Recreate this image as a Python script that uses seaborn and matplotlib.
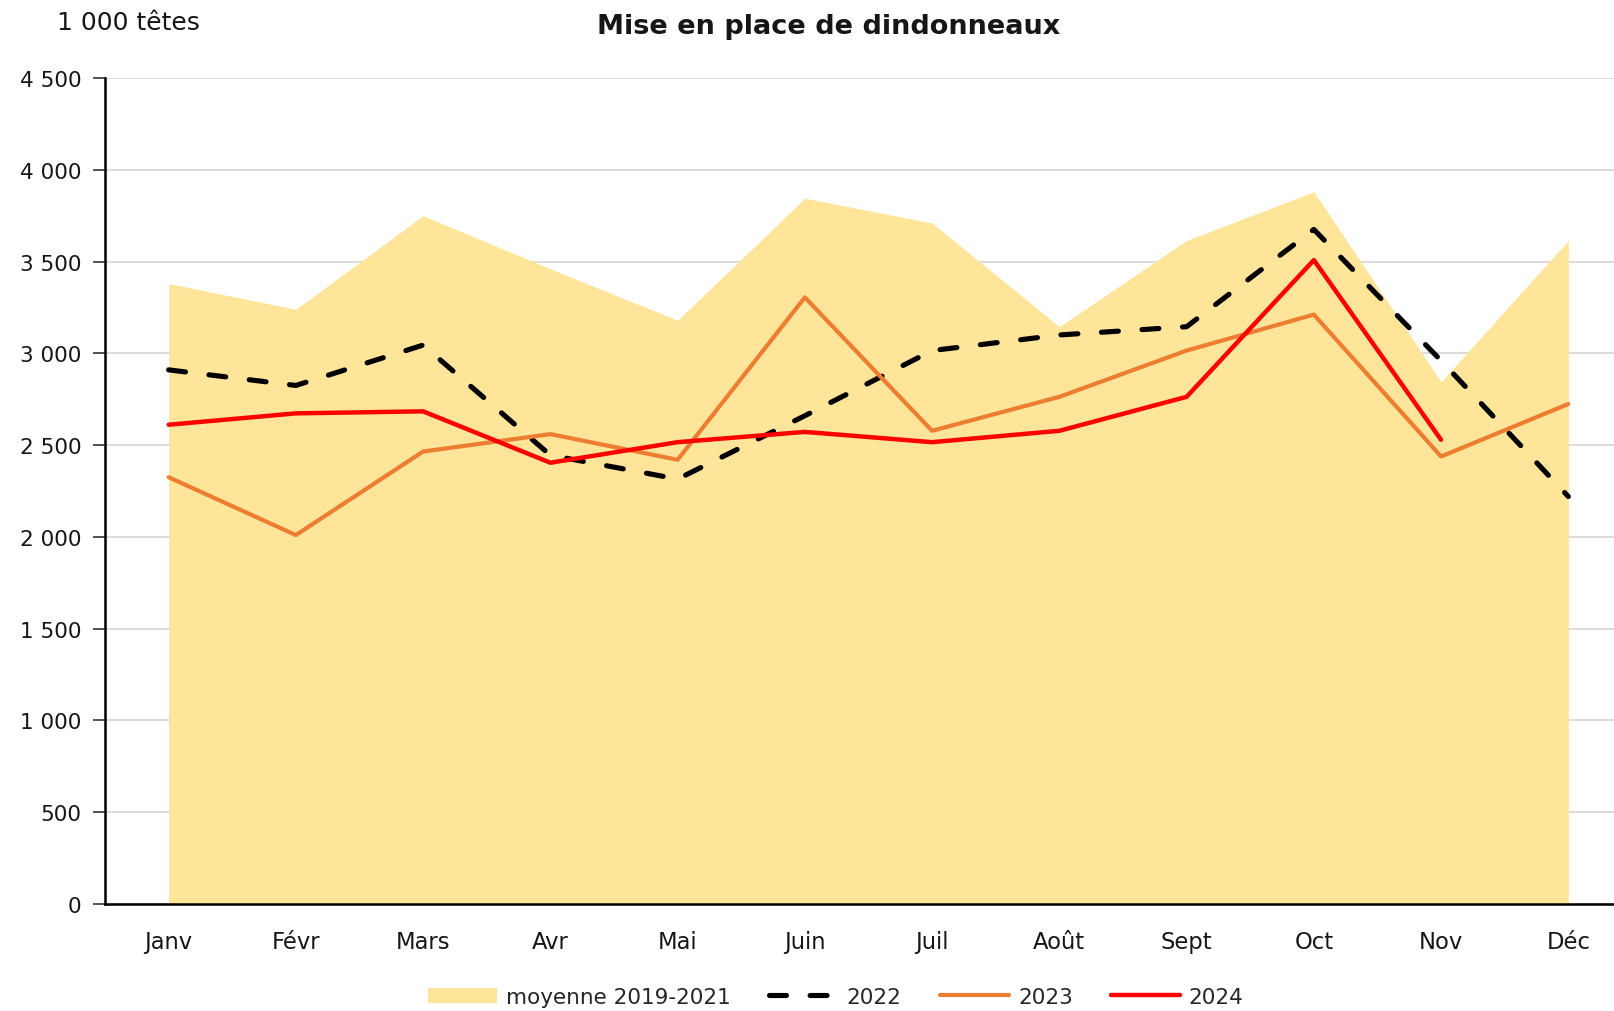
import numpy as np
import pandas as pd
import matplotlib
matplotlib.use("Agg")
import matplotlib.pyplot as plt
import seaborn as sns

months = ["Janv", "Févr", "Mars", "Avr", "Mai", "Juin", "Juil", "Août", "Sept", "Oct", "Nov", "Déc"]
moyenne_2019_2021 = [3380, 3240, 3750, 3460, 3180, 3845, 3710, 3145, 3615, 3880, 2845, 3615]
y2022 = [2910, 2825, 3045, 2445, 2315, 2660, 3015, 3100, 3145, 3675, 2960, 2220]
y2023 = [2325, 2010, 2465, 2560, 2420, 3305, 2578, 2763, 3015, 3211, 2438, 2724]
y2024 = [2611, 2673, 2684, 2404, 2516, 2572, 2516, 2578, 2763, 3508, 2529]
yticks = [0, 500, 1000, 1500, 2000, 2500, 3000, 3500, 4000, 4500]
ytick_labels = ["0", "500", "1 000", "1 500", "2 000", "2 500", "3 000", "3 500", "4 000", "4 500"]

sns.set_theme(style="white")
plt.rcParams['font.family'] = ['DejaVu Sans']

W, H = 1615, 1012
fig = plt.figure(figsize=(W / 100, H / 100), dpi=100)
left = 105 / W
bottom = (H - 905) / H
top = (H - 79) / H
right_px = 168 + 11.5 * 127.3
ax = fig.add_axes([left, bottom, (right_px - 105) / W, top - bottom])

x = np.arange(len(months))
ax.fill_between(x, moyenne_2019_2021, 0, color="#FFE599", lw=0, label="moyenne 2019-2021", zorder=1)

df22 = pd.DataFrame({"x": x, "v": y2022})
df23 = pd.DataFrame({"x": x, "v": y2023})
df24 = pd.DataFrame({"x": x[:len(y2024)], "v": y2024})

sns.lineplot(data=df22, x="x", y="v", ax=ax, color="black", lw=3.7, label="2022", zorder=3)
ax.lines[-1].set_dashes([3.3, 4.6])
ax.lines[-1].set_dash_capstyle("round")
sns.lineplot(data=df23, x="x", y="v", ax=ax, color="#ED7D31", lw=3.0, label="2023", zorder=3)
sns.lineplot(data=df24, x="x", y="v", ax=ax, color="#FF0000", lw=3.2, label="2024", zorder=4)
for ln in ax.lines:
    ln.set_solid_capstyle("round")

ax.set_xlim(-0.5, 11.5)
ax.set_ylim(0, 4500)
ax.set_yticks(yticks)
ax.set_yticklabels(ytick_labels, fontsize=15.5, color="#161616")
ax.set_xticks(x)
ax.set_xticklabels(months, fontsize=16.3, color="#161616")
ax.set_xlabel("")
ax.set_ylabel("")
ax.tick_params(axis="y", length=9, width=1.2, color="#333333", pad=8, left=True)
ax.tick_params(axis="x", length=0, pad=19)
ax.yaxis.grid(True, color="#d9d9d9", lw=1.3, zorder=0)
ax.set_axisbelow(True)
for s in ["top", "right"]:
    ax.spines[s].set_visible(False)
for s in ["left", "bottom"]:
    ax.spines[s].set_color("black")
    ax.spines[s].set_linewidth(1.8)
    ax.spines[s].set_zorder(5)

fig.text(829 / W, 1 - 27 / H, "Mise en place de dindonneaux", ha="center", va="center",
         fontsize=19.5, fontweight="bold", color="#161616")
fig.text(57 / W, 1 - 23 / H, "1 000 têtes", ha="left", va="center", fontsize=18, color="#161616")

handles, labels = ax.get_legend_handles_labels()
if ax.legend_:
    ax.legend_.remove()
order = ["moyenne 2019-2021", "2022", "2023", "2024"]
hmap = dict(zip(labels, handles))
fig.legend([hmap[k] for k in order], order, loc="center", bbox_to_anchor=(836 / W, 1 - 998 / H),
           ncol=4, frameon=False, fontsize=15.5, handlelength=3.2, handletextpad=0.4,
           columnspacing=1.8, borderaxespad=0)

fig.savefig("out.png", dpi=100)
